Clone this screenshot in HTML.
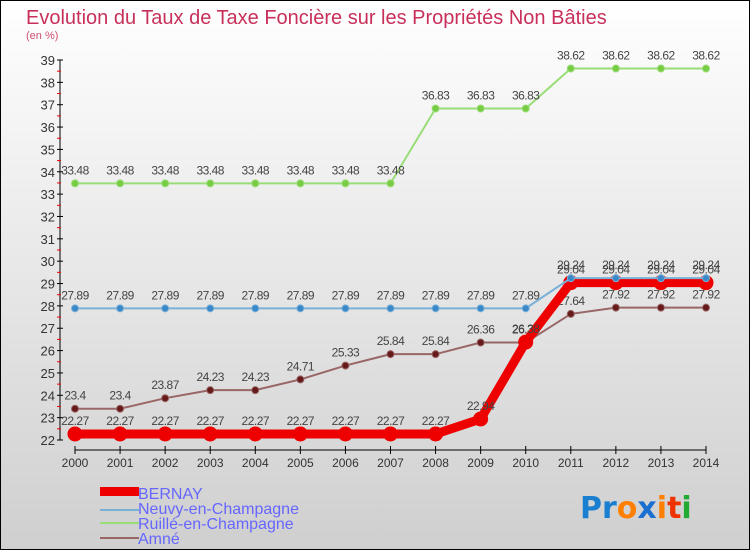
<!DOCTYPE html>
<html><head><meta charset="utf-8">
<style>
body{margin:0;width:750px;height:550px;overflow:hidden;font-family:"Liberation Sans",sans-serif}
svg{display:block}
</style></head>
<body>
<svg width="750" height="550" xmlns="http://www.w3.org/2000/svg">
<defs>
<linearGradient id="bg" x1="0" y1="0" x2="0" y2="1">
<stop offset="0" stop-color="#ffffff"/><stop offset="1" stop-color="#cfcfcf"/>
</linearGradient>
</defs>
<rect x="0.5" y="0.5" width="749" height="549" fill="url(#bg)" stroke="#000"/>
<text x="26" y="24" font-size="20" fill="#c8305a">Evolution du Taux de Taxe Foncière sur les Propriétés Non Bâties</text>
<text x="26" y="39" font-size="11" fill="#d05070">(en %)</text>
<g id="axes"></g>
<g id="series"></g>
<g font-size="16" fill="#6666ff">
<rect x="100" y="487" width="39" height="9" fill="#e00"/>
<text x="138" y="499">BERNAY</text>
<rect x="100" y="509" width="39" height="2" fill="#7ab0d8"/>
<text x="138" y="514">Neuvy-en-Champagne</text>
<rect x="100" y="522" width="39" height="2" fill="#99dd77"/>
<text x="138" y="529">Ruillé-en-Champagne</text>
<rect x="100" y="537" width="39" height="2" fill="#996666"/>
<text x="138" y="544">Amné</text>
</g>
<g font-size="30" font-weight="bold" font-family="'DejaVu Sans',sans-serif">
<text x="580" y="518"><tspan fill="#1a7fd0">P</tspan><tspan fill="#1a7fd0">r</tspan><tspan fill="#ff7f00">o</tspan><tspan fill="#1a6fd0">x</tspan><tspan fill="#ff7f00">i</tspan><tspan fill="#ee3300">t</tspan><tspan fill="#22aa33">i</tspan></text>
</g>
</svg>
<script>
const years=["2000","2001","2002","2003","2004","2005","2006","2007","2008","2009","2010","2011","2012","2013","2014"];
const yTicks=[22,23,24,25,26,27,28,29,30,31,32,33,34,35,36,37,38,39];
const bernay=[22.27,22.27,22.27,22.27,22.27,22.27,22.27,22.27,22.27,22.94,26.38,29.04,29.04,29.04,29.04];
const neuvy=[27.89,27.89,27.89,27.89,27.89,27.89,27.89,27.89,27.89,27.89,27.89,29.24,29.24,29.24,29.24];
const ruille=[33.48,33.48,33.48,33.48,33.48,33.48,33.48,33.48,36.83,36.83,36.83,38.62,38.62,38.62,38.62];
const amne=[23.4,23.4,23.87,24.23,24.23,24.71,25.33,25.84,25.84,26.36,26.36,27.64,27.92,27.92,27.92];
const NS="http://www.w3.org/2000/svg";
const x=i=>75+i*(706-75)/(years.length-1);
const y=v=>440-(v-22)*(380/17);
function mk(tag,attrs,parent){const e=document.createElementNS(NS,tag);for(const k in attrs)e.setAttribute(k,attrs[k]);parent.appendChild(e);return e;}
const ax=document.getElementById('axes');
const yl=mk('line',{x1:60,y1:60,x2:60,y2:440,stroke:'#000'},ax);


yTicks.forEach(t=>{
 const ty=y(t);
 mk('line',{x1:57,y1:ty,x2:63,y2:ty,stroke:'#000'},ax);
 if(t<39) mk('line',{x1:57,y1:ty-380/34,x2:61,y2:ty-380/34,stroke:'#e00'},ax);
 const tx=mk('text',{x:55,y:ty+5,'font-size':13,fill:'#333','text-anchor':'end'},ax);
 tx.textContent=t;
 
 
});
const xl=mk('line',{x1:75,y1:450,x2:706,y2:450,stroke:'#000'},ax);


years.forEach((yr,i)=>{
 mk('line',{x1:x(i),y1:446,x2:x(i),y2:454,stroke:'#000'},ax);
 const tx=mk('text',{x:x(i),y:467,'font-size':12,fill:'#333','text-anchor':'middle'},ax);
 tx.textContent=yr;
 
 
});
const sg=document.getElementById('series');
function series(name,vals,color,w,r,dot){
 const g=mk('g',{},sg);
 
 
 const p=mk('polyline',{points:vals.map((v,i)=>x(i)+','+y(v)).join(' '),fill:'none',stroke:color,'stroke-width':w},g);
 
 
 vals.forEach((v,i)=>{
  const c=mk('circle',{cx:x(i),cy:y(v),r:r,fill:dot,stroke:color,'stroke-width':1},g);
  
  
  const t=mk('text',{x:x(i),y:y(v)-9,'font-size':12,fill:'#444','text-anchor':'middle','letter-spacing':'-0.5'},g);
  t.textContent=v;
  
  
 });
}
series('ruille',ruille,'#99dd77',2,3.5,'#77cc44');
series('amne',amne,'#996666',2,3.5,'#661a1a');
series('bernay',bernay,'#e00',9,7,'#e00');
series('neuvy',neuvy,'#7ab0d8',2,3.5,'#3a88c8');
</script>
</body></html>
